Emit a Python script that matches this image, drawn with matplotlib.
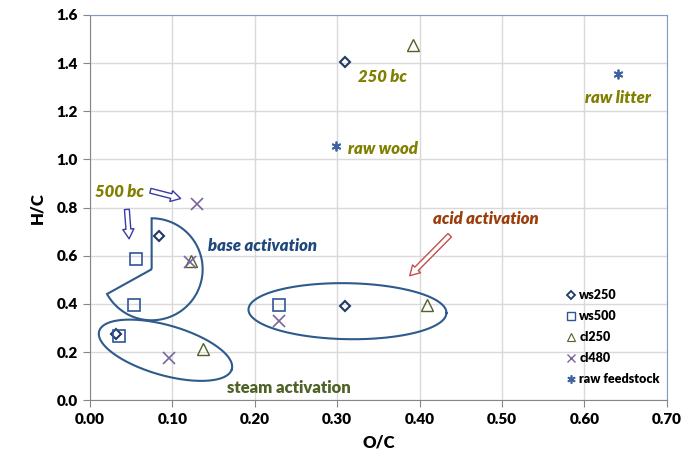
import numpy as np
import matplotlib.pyplot as plt
from matplotlib.path import Path
from matplotlib.patches import PathPatch, FancyArrowPatch
from matplotlib.lines import Line2D

plt.rcParams['font.family'] = ['Lato', 'DejaVu Sans']
W = 800  # heavy-ish bold, closer to the original look

# O/C and H/C values per sample
ws250_oc = [0.309, 0.084, 0.032, 0.310]
ws250_hc = [1.405, 0.683, 0.276, 0.392]
ws500_oc = [0.056, 0.053, 0.035, 0.230]
ws500_hc = [0.587, 0.396, 0.269, 0.395]
cl250_oc = [0.392, 0.1226, 0.1376, 0.4086]
cl250_hc = [1.475, 0.580, 0.214, 0.395]
cl480_oc = [0.130, 0.121, 0.096, 0.229]
cl480_hc = [0.817, 0.573, 0.175, 0.329]
raw_oc = [0.2985, 0.641]
raw_hc = [1.055, 1.354]

fig = plt.figure(figsize=(6.84, 4.61), dpi=100)
ax = fig.add_axes([0.1316, 0.1317, 0.8431, 0.8358])
ax.set_xlim(0, 0.7)
ax.set_ylim(0, 1.6)

# px per data unit, used for the round shapes
fw, fh = fig.get_size_inches() * fig.dpi
sx = fw * 0.8431 / 0.7
sy = fh * 0.8358 / 1.6

ax.set_xticks(np.arange(0, 0.71, 0.1))
ax.set_yticks(np.arange(0, 1.61, 0.2))
ax.set_xticklabels(['%.2f' % v for v in np.arange(0, 0.71, 0.1)])
ax.set_yticklabels(['%.1f' % v for v in np.arange(0, 1.61, 0.2)])
ax.tick_params(labelsize=11, length=5, color='#868686', pad=4)
for lab in ax.get_xticklabels() + ax.get_yticklabels():
    lab.set_fontweight(W)
ax.grid(True, color='#D9D9D9', lw=1)
ax.set_axisbelow(True)
for s in ['left', 'bottom']:
    ax.spines[s].set_color('#868686')
for s in ['top', 'right']:
    ax.spines[s].set_color('#7F9CC8')
ax.set_xlabel('O/C', fontsize=12, fontweight=W, labelpad=6)
ax.set_ylabel('H/C', fontsize=12, fontweight=W, labelpad=8)

# shapes: pacman around base activation
cx, cy, r = 0.0748, 0.544, 51
t = np.radians(np.linspace(-151, 90, 120))
px = np.concatenate([[cx], cx + r * np.cos(t) / sx, [cx]])
py = np.concatenate([[cy], cy + r * np.sin(t) / sy, [cy]])
ax.add_patch(PathPatch(Path(np.column_stack([px, py])), fill=False,
                       ec='#2E5A8C', lw=1.5))


def ellipse(cx, cy, a, b, ang):
    t = np.linspace(0, 2 * np.pi, 200)
    th = np.radians(ang)
    ex = a * np.cos(t) * np.cos(th) - b * np.sin(t) * np.sin(th)
    ey = a * np.cos(t) * np.sin(th) + b * np.sin(t) * np.cos(th)
    ax.plot(cx + ex / sx, cy + ey / sy, color='#2E5A8C', lw=1.5)


ellipse(0.0916, 0.2078, 69, 25, -16)
ellipse(0.3125, 0.370, 99, 28, -1)

# data
ax.plot(ws250_oc, ws250_hc, 'D', ms=5.5, mfc='none', mec='#1F3864', mew=1.5)
ax.plot(ws500_oc, ws500_hc, 's', ms=8, mfc='none', mec='#2F5597', mew=1.2)
ax.plot(cl250_oc, cl250_hc, '^', ms=8, mfc='none', mec='#4F6228', mew=1.0)
ax.plot(cl480_oc, cl480_hc, 'x', ms=8, mec='#7A64A0', mew=1.2)
ax.plot(raw_oc, raw_hc, marker=(6, 2, 0), ls='none', ms=7, mec='#3F62A0', mew=1.3)

# arrows
arrows = [((0.070, 0.873), (0.1133, 0.835), '#3A3AA8'),
          ((0.0445, 0.804), (0.0477, 0.659), '#3A3AA8'),
          ((0.439, 0.6935), (0.3857, 0.509), '#C0504D')]
for p0, p1, c in arrows:
    ax.add_patch(FancyArrowPatch(p0, p1, mutation_scale=1,
                                 arrowstyle='simple,head_width=8,head_length=7,tail_width=3.5',
                                 fc='white', ec=c, lw=1))

olive = '#808000'
kw = dict(fontsize=12, fontweight=W, va='center')
ax.text(0.3545, 1.344, '250 bc', color=olive, style='italic', ha='center', **kw)
ax.text(0.641, 1.257, 'raw litter', color=olive, style='italic', ha='center', **kw)
ax.text(0.3135, 1.042, 'raw wood', color=olive, style='italic', ha='left', **kw)
ax.text(0.006, 0.866, '500 bc', color=olive, style='italic', ha='left', **kw)
ax.text(0.1436, 0.641, 'base activation', color='#1F497D', style='italic', ha='left', **kw)
ax.text(0.166, 0.050, 'steam activation', color='#4F6228', ha='left', **kw)
ax.text(0.416, 0.752, 'acid activation', color='#9C3D0C', style='italic', ha='left', **kw)

handles = [
    Line2D([], [], marker='D', ls='none', ms=4.5, mfc='none', mec='#1F3864', mew=1.3),
    Line2D([], [], marker='s', ls='none', ms=6, mfc='none', mec='#2F5597', mew=1),
    Line2D([], [], marker='^', ls='none', ms=6, mfc='none', mec='#4F6228', mew=0.8),
    Line2D([], [], marker='x', ls='none', ms=6, mec='#7A64A0', mew=1),
    Line2D([], [], marker=(6, 2, 0), ls='none', ms=6, mec='#3F62A0', mew=1.2),
]
labels = ['ws250', 'ws500', 'cl250', 'cl480', 'raw feedstock']
leg = ax.legend(handles, labels, loc='upper left', bbox_to_anchor=(0.814, 0.305),
                frameon=False, borderpad=0, handlelength=0.8, handletextpad=0.3,
                labelspacing=0.72, prop={'size': 9, 'weight': W})

fig.savefig('out.png', dpi=100)
